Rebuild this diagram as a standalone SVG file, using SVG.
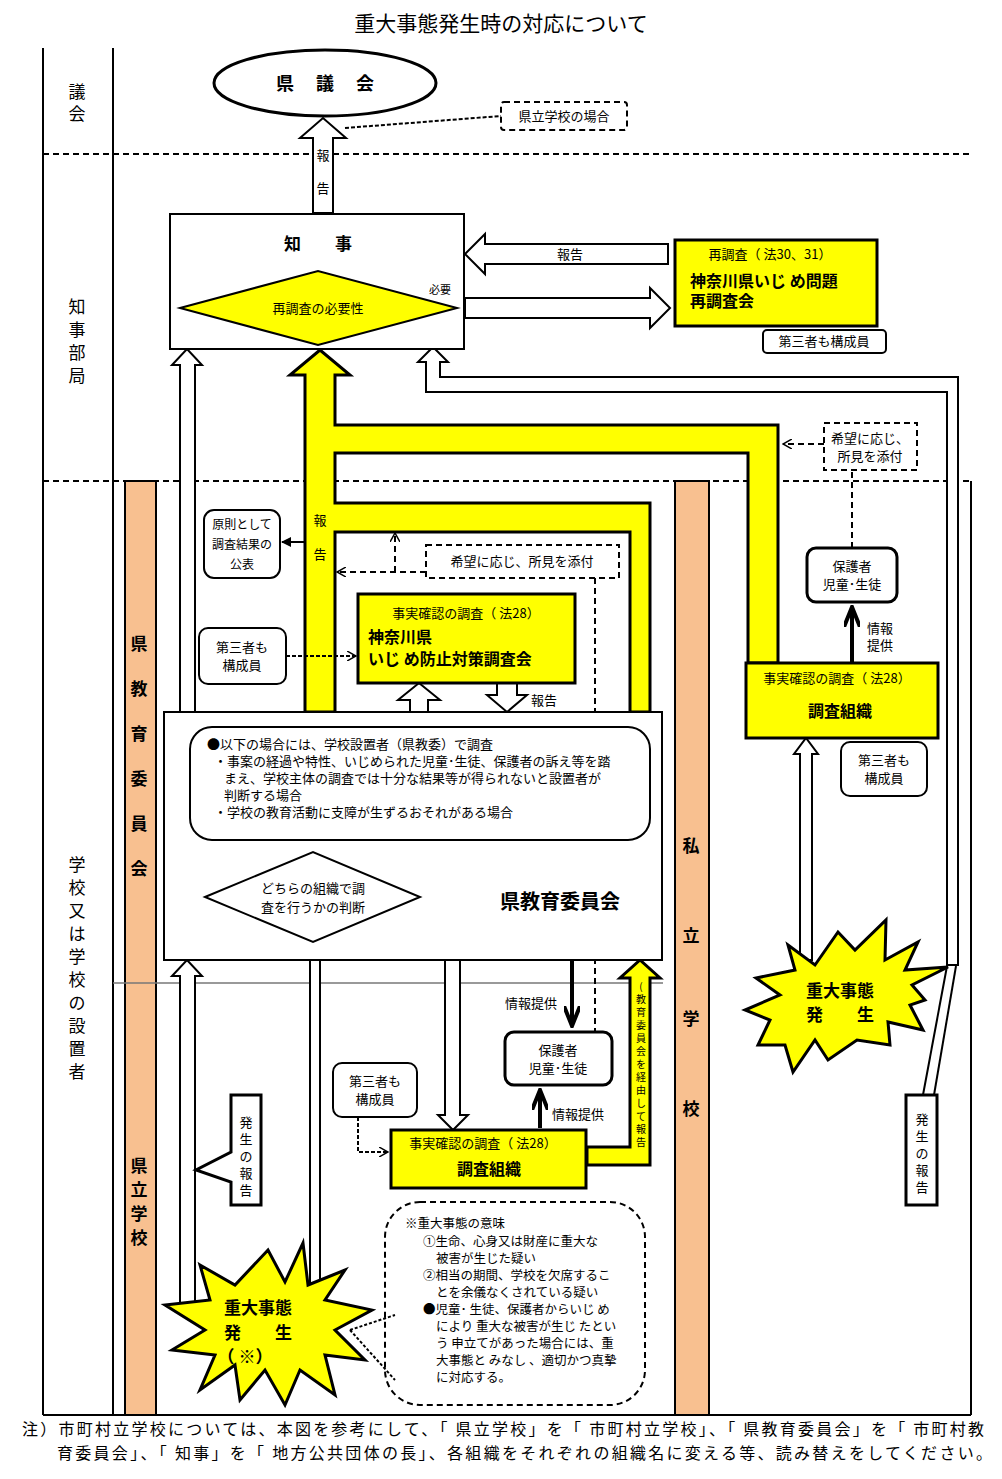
<svg xmlns="http://www.w3.org/2000/svg" width="1002" height="1479" viewBox="0 0 1002 1479">
<style>
text{font-family:"Noto Sans CJK JP","Noto Sans",sans-serif;fill:#000}
.s{font-size:13px}.m{font-size:14px}.b{font-weight:bold}
.box{fill:#fff;stroke:#000;stroke-width:2}
.thk{fill:#fff;stroke:#000;stroke-width:3}
.yel{fill:#ff0;stroke:#000;stroke-width:3}
.ho{fill:#fff;stroke:#000;stroke-width:2}
.dash{fill:none;stroke:#000;stroke-width:2;stroke-dasharray:6,4}
.ln{stroke:#000;stroke-width:2;fill:none}
.sal{fill:#f8c090;stroke:#000;stroke-width:2}
</style>
<defs>
<marker id="tri" markerWidth="10" markerHeight="10" refX="9" refY="5" orient="auto" markerUnits="userSpaceOnUse"><path d="M0,0L10,5L0,10z" fill="#000"/></marker>
<marker id="open" markerWidth="10" markerHeight="10" refX="9" refY="5" orient="auto" markerUnits="userSpaceOnUse"><path d="M0,0L9,5L0,10" fill="none" stroke="#000" stroke-width="1.5"/></marker>
<marker id="big" markerWidth="22" markerHeight="16" refX="20" refY="8" orient="auto" markerUnits="userSpaceOnUse"><path d="M0,0L20,8L0,16" fill="none" stroke="#000" stroke-width="4"/></marker>
</defs>
<rect width="1002" height="1479" fill="#fff"/>
<text x="501" y="31" font-size="21" text-anchor="middle">重大事態発生時の対応について</text>

<g id="frame">
<line x1="43" y1="48" x2="43" y2="1415" class="ln"/>
<line x1="113" y1="48" x2="113" y2="1415" class="ln"/>
<line x1="43" y1="1415" x2="971" y2="1415" class="ln"/>
<line x1="971" y1="481" x2="971" y2="1415" class="ln"/>
<line x1="43" y1="154" x2="970" y2="154" class="dash"/>
<line x1="43" y1="481" x2="970" y2="481" class="dash"/>
<rect x="125" y="481" width="31" height="934" class="sal"/>
<rect x="675" y="481" width="34" height="934" class="sal"/>
<line x1="113" y1="983" x2="663" y2="983" stroke="#777" stroke-width="1.5"/>
<g font-size="17" text-anchor="middle">
<text x="77" y="98">議</text><text x="77" y="120">会</text>
<text x="77" y="313">知</text><text x="77" y="336">事</text><text x="77" y="359">部</text><text x="77" y="382">局</text>
<text x="77" y="871">学</text><text x="77" y="894">校</text><text x="77" y="917">又</text><text x="77" y="940">は</text><text x="77" y="963">学</text><text x="77" y="986">校</text><text x="77" y="1009">の</text><text x="77" y="1032">設</text><text x="77" y="1055">置</text><text x="77" y="1078">者</text>
</g>
<g font-size="17" font-weight="bold" text-anchor="middle">
<text x="139" y="650">県</text><text x="139" y="695">教</text><text x="139" y="740">育</text><text x="139" y="785">委</text><text x="139" y="830">員</text><text x="139" y="875">会</text>
<text x="139" y="1172">県</text><text x="139" y="1196">立</text><text x="139" y="1220">学</text><text x="139" y="1244">校</text>
<text x="691" y="852">私</text><text x="691" y="942">立</text><text x="691" y="1025">学</text><text x="691" y="1115">校</text>
</g>
</g>

<g id="connectors">
<path d="M305,712V375H290L320,350L350,375H335V425H778V663H748V453H335V503H650V712H630V532H335V712Z" class="yel"/>
<text x="320" y="525" class="s" text-anchor="middle">報</text>
<text x="320" y="559" class="s" text-anchor="middle">告</text>
<path d="M313,213V138H300L323,118L346,138H333V213Z" class="ho"/>
<text x="323" y="160" class="s" text-anchor="middle">報</text>
<text x="323" y="193" class="s" text-anchor="middle">告</text>
<path d="M345,128L501,116" class="ln" stroke-width="1.5" stroke-dasharray="4,2"/>
<path d="M668,244H485V234L465,254L485,274V264H668Z" class="ho"/>
<text x="570" y="259" class="s" text-anchor="middle">報告</text>
<path d="M465,298H650V288L670,308L650,328V318H465Z" class="ho"/>
<path d="M180,712V365H172L187,349L202,365H195V712Z" class="ho"/>
<path d="M180,1305V976H172L187,960L202,976H195V1305Z" class="ho"/>
<path d="M310,1285V956H304L315,941L326,956H320V1285Z" class="ho"/>
<path d="M947,965H958V377H440V362H448L433,347L418,362H426V392H947Z" class="ho"/>
<line x1="923" y1="1095" x2="947" y2="966" class="ln"/>
<line x1="934" y1="1095" x2="956" y2="966" class="ln"/>
<line x1="305" y1="542" x2="282" y2="542" class="ln" stroke-width="1.5" marker-end="url(#tri)"/>
<path d="M426,572H337" class="dash" marker-end="url(#open)"/>
<path d="M395,572V533" class="dash" marker-end="url(#open)"/>
<line x1="595" y1="578" x2="595" y2="1032" class="dash" stroke-width="1.5"/>
<line x1="286" y1="656" x2="356" y2="656" class="ln" stroke-width="1.2" stroke-dasharray="4,2" marker-end="url(#open)"/>
<path d="M410,728V700H398L419,683L440,700H428V728Z" class="ho"/>
<path d="M497,683V695H487L507,712L527,695H517V683Z" class="ho"/>
<text x="544" y="705" class="s" text-anchor="middle">報告</text>
<path d="M415,893H460V1115H468L453,1130L438,1115H445V905H415Z" class="ho"/>
<line x1="572" y1="960" x2="572" y2="1026" stroke="#000" stroke-width="4" marker-end="url(#big)"/>
<text x="531" y="1008" class="s" text-anchor="middle">情報提供</text>
<line x1="540" y1="1128" x2="540" y2="1090" stroke="#000" stroke-width="4" marker-end="url(#big)"/>
<text x="578" y="1119" class="s" text-anchor="middle">情報提供</text>
<path d="M358,1117V1152H388" class="ln" stroke-width="1.2" stroke-dasharray="4,2" marker-end="url(#open)"/>
<path d="M587,1147H630V978H620L640,960L660,978H650V1165H587Z" class="yel" stroke-width="2.5"/>
<g font-size="10" text-anchor="middle">
<text x="641" y="990">(</text><text x="641" y="1003">教</text><text x="641" y="1016">育</text><text x="641" y="1029">委</text><text x="641" y="1042">員</text><text x="641" y="1055">会</text><text x="641" y="1068">を</text><text x="641" y="1081">経</text><text x="641" y="1094">由</text><text x="641" y="1107">し</text><text x="641" y="1120">て</text><text x="641" y="1133">報</text><text x="641" y="1146">告</text>
</g>
<line x1="852" y1="663" x2="852" y2="607" stroke="#000" stroke-width="4" marker-end="url(#big)"/>
<text x="880" y="633" class="s" text-anchor="middle">情報</text>
<text x="880" y="650" class="s" text-anchor="middle">提供</text>
<line x1="852" y1="548" x2="852" y2="470" class="dash" stroke-width="2"/>
<path d="M824,444H783" class="dash" marker-end="url(#open)"/>
<path d="M800,960V754H794L806,738L818,754H812V960Z" class="ho"/>
<path d="M350,1330L395,1315M350,1330L395,1380" class="ln" stroke-width="1.2" stroke-dasharray="3,2"/>
</g>

<g id="council">
<ellipse cx="325" cy="83" rx="111" ry="33" class="thk"/>
<text x="325" y="90" font-size="18" font-weight="bold" text-anchor="middle">県　 議　 会</text>
</g>
<g id="case-pref">
<rect x="501" y="102" width="126" height="28" rx="3" class="dash" fill="#fff"/>
<text x="564" y="121" class="s" text-anchor="middle">県立学校の場合</text>
</g>
<g id="governor">
<rect x="170" y="214" width="294" height="135" class="box"/>
<text x="318" y="250" font-size="17" font-weight="bold" text-anchor="middle">知　　事</text>
<polygon points="180,308 318,271 457,308 318,345" fill="#ff0" stroke="#000" stroke-width="2"/>
<text x="318" y="313" class="s" text-anchor="middle">再調査の必要性</text>
<text x="440" y="294" font-size="11" text-anchor="middle">必要</text>
</g>
<g id="reinvest">
<rect x="675" y="240" width="202" height="86" class="yel"/>
<text x="770" y="259" class="s" text-anchor="middle">再調査（ 法30、31）</text>
<text x="690" y="287" font-size="16" font-weight="bold">神奈川県いじ め問題</text>
<text x="690" y="307" font-size="16" font-weight="bold">再調査会</text>
</g>
<g id="third1"><rect x="763" y="330" width="123" height="23" rx="4" class="box"/><text x="824" y="346" class="s" text-anchor="middle">第三者も構成員</text></g>
<g id="publish"><rect x="204" y="510" width="76" height="68" rx="10" class="box"/>
<text x="242" y="529" font-size="12" text-anchor="middle">原則として</text><text x="242" y="549" font-size="12" text-anchor="middle">調査結果の</text><text x="242" y="569" font-size="12" text-anchor="middle">公表</text></g>
<g id="opinion1"><rect x="426" y="545" width="193" height="33" class="dash" fill="#fff" stroke-width="2.5"/><text x="522" y="566" class="s" text-anchor="middle">希望に応じ、所見を添付</text></g>
<g id="committee"><rect x="358" y="594" width="217" height="89" class="yel"/>
<text x="466" y="618" class="s" text-anchor="middle">事実確認の調査（ 法28）</text>
<text x="368" y="643" font-size="16" font-weight="bold">神奈川県</text>
<text x="368" y="665" font-size="16" font-weight="bold">いじ め防止対策調査会</text></g>
<g id="third2"><rect x="199" y="628" width="87" height="56" rx="9" class="box"/><text x="242" y="652" class="s" text-anchor="middle">第三者も</text><text x="242" y="670" class="s" text-anchor="middle">構成員</text></g>
<g id="board">
<rect x="164" y="712" width="498" height="248" class="box" stroke-width="2.5"/>
<rect x="190" y="727" width="460" height="113" rx="22" class="box"/>
<text x="207" y="749" class="s">●以下の場合には、学校設置者（県教委）で調査</text>
<text x="214" y="766" class="s">・事案の経過や特性、いじめられた児童･生徒、保護者の訴え等を踏</text>
<text x="224" y="783" class="s">まえ、学校主体の調査では十分な結果等が得られないと設置者が</text>
<text x="224" y="800" class="s">判断する場合</text>
<text x="214" y="817" class="s">・学校の教育活動に支障が生ずるおそれがある場合</text>
<polygon points="205,897 313,852 420,897 313,942" class="box"/>
<text x="313" y="893" class="s" text-anchor="middle">どちらの組織で調</text>
<text x="313" y="912" class="s" text-anchor="middle">査を行うかの判断</text>
<text x="560" y="909" font-size="20" font-weight="bold" text-anchor="middle">県教育委員会</text>
</g>
<g id="parents1"><rect x="505" y="1032" width="107" height="53" rx="9" class="thk"/><text x="558" y="1055" class="s" text-anchor="middle">保護者</text><text x="558" y="1073" class="s" text-anchor="middle">児童･生徒</text></g>
<g id="third3"><rect x="333" y="1063" width="84" height="54" rx="9" class="box"/><text x="375" y="1086" class="s" text-anchor="middle">第三者も</text><text x="375" y="1104" class="s" text-anchor="middle">構成員</text></g>
<g id="org1"><rect x="391" y="1130" width="195" height="58" class="yel"/>
<text x="483" y="1148" class="s" text-anchor="middle">事実確認の調査（ 法28）</text>
<text x="489" y="1175" font-size="16" font-weight="bold" text-anchor="middle">調査組織</text></g>
<g id="report-left"><polygon points="231,1095 261,1095 261,1205 231,1205 231,1182 196,1170 231,1152" class="thk"/>
<g class="s" text-anchor="middle"><text x="246" y="1127">発</text><text x="246" y="1144">生</text><text x="246" y="1161">の</text><text x="246" y="1178">報</text><text x="246" y="1195">告</text></g></g>
<g id="explosion-left"><polygon points="200,1265 235,1285 268,1250 285,1282 303,1243 308,1285 345,1270 325,1300 372,1310 335,1330 365,1360 325,1355 335,1395 300,1370 285,1405 265,1370 240,1400 235,1365 200,1390 215,1355 172,1350 205,1330 165,1305 210,1300" class="yel"/>
<text x="258" y="1314" font-size="17" font-weight="bold" text-anchor="middle">重大事態</text>
<text x="258" y="1339" font-size="17" font-weight="bold" text-anchor="middle">発　　生</text>
<text x="245" y="1363" font-size="17" font-weight="bold" text-anchor="middle">（ ※）</text></g>
<g id="meaning"><rect x="385" y="1202" width="260" height="203" rx="35" class="dash" fill="none" stroke-width="1.5" stroke-dasharray="4,2"/>
<g font-size="12.5"><text x="405" y="1228">※重大事態の意味</text>
<text x="423" y="1246">①生命、心身又は財産に重大な</text><text x="436" y="1263">被害が生じた疑い</text>
<text x="423" y="1280">②相当の期間、学校を欠席するこ</text><text x="436" y="1297">とを余儀なくされている疑い</text>
<text x="423" y="1314">●児童･ 生徒、保護者からいじ め</text><text x="436" y="1331">により 重大な被害が生じ たとい</text>
<text x="436" y="1348">う 申立てがあった場合には、重</text><text x="436" y="1365">大事態と みなし 、適切かつ真摯</text>
<text x="436" y="1382">に対応する。</text></g></g>
<g id="opinion2"><rect x="824" y="423" width="93" height="47" class="dash" fill="#fff" stroke-width="2.5"/><text x="870" y="443" class="s" text-anchor="middle">希望に応じ、</text><text x="870" y="461" class="s" text-anchor="middle">所見を添付</text></g>
<g id="parents2"><rect x="807" y="548" width="90" height="54" rx="9" class="thk"/><text x="852" y="571" class="s" text-anchor="middle">保護者</text><text x="852" y="589" class="s" text-anchor="middle">児童･生徒</text></g>
<g id="org2"><rect x="746" y="663" width="192" height="75" class="yel"/>
<text x="837" y="683" class="s" text-anchor="middle">事実確認の調査（ 法28）</text>
<text x="840" y="717" font-size="16" font-weight="bold" text-anchor="middle">調査組織</text></g>
<g id="third4"><rect x="841" y="742" width="86" height="54" rx="9" class="box"/><text x="884" y="765" class="s" text-anchor="middle">第三者も</text><text x="884" y="783" class="s" text-anchor="middle">構成員</text></g>
<g id="explosion-right"><polygon points="788,945 815,965 838,932 855,950 886,920 885,960 918,942 905,970 948,967 912,985 925,1000 910,1005 923,1030 888,1022 890,1045 857,1040 828,1060 815,1040 793,1072 785,1045 758,1045 770,1020 745,1010 780,995 756,978 795,970" class="yel"/>
<text x="840" y="997" font-size="17" font-weight="bold" text-anchor="middle">重大事態</text>
<text x="840" y="1021" font-size="17" font-weight="bold" text-anchor="middle">発　　生</text></g>
<g id="report-right"><rect x="906" y="1095" width="31" height="110" class="thk"/>
<g class="s" text-anchor="middle"><text x="922" y="1124">発</text><text x="922" y="1141">生</text><text x="922" y="1158">の</text><text x="922" y="1175">報</text><text x="922" y="1192">告</text></g></g>
<g id="note" font-size="16">
<text x="22" y="1435" textLength="962" lengthAdjust="spacing">注）市町村立学校については、本図を参考にして、「 県立学校」を「 市町村立学校」、「 県教育委員会」を「 市町村教</text>
<text x="57" y="1459" textLength="935" lengthAdjust="spacing">育委員会」、「 知事」を「 地方公共団体の長」、各組織をそれぞれの組織名に変える等、読み替えをしてください。</text>
</g>
</svg>
